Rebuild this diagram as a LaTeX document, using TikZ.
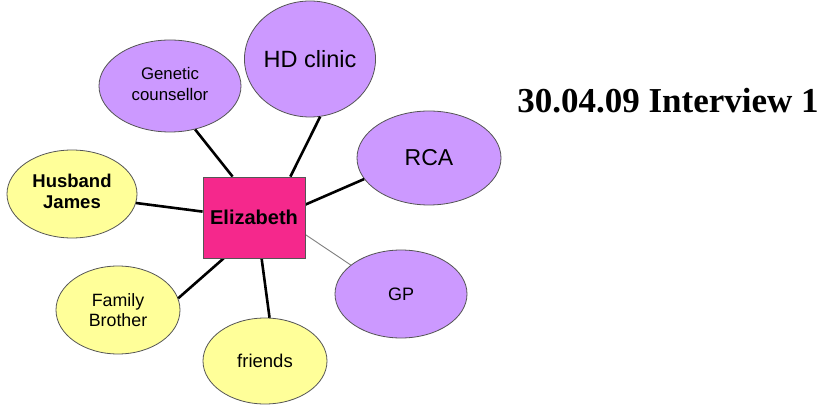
\documentclass[tikz,border=0pt]{standalone}
\usepackage{fontspec}
\setmainfont{Liberation Sans}
\newfontfamily\titlefont{Liberation Serif}
\usetikzlibrary{shapes.geometric,calc}
\definecolor{violetfill}{RGB}{204,153,255}
\definecolor{yellowfill}{RGB}{255,255,153}
\definecolor{pinkfill}{RGB}{245,40,140}
\definecolor{rimgray}{RGB}{85,85,85}
\tikzset{
  bubble/.style={ellipse, draw=rimgray, line width=0.8pt, inner sep=0pt, align=center,
    font=\fontsize{18}{21}\selectfont},
  staff/.style={bubble, fill=violetfill},
  kin/.style={bubble, fill=yellowfill},
  centre/.style={rectangle, draw=rimgray, line width=0.8pt, fill=pinkfill,
    minimum width=102pt, minimum height=81pt, inner sep=0pt,
    font=\bfseries\fontsize{20}{24}\selectfont},
  tie/.style={line width=2.6pt, black},
  weaktie/.style={line width=0.9pt, gray}
}
\begin{document}
\begin{tikzpicture}[x=1pt,y=-1pt]
\useasboundingbox (0,0) rectangle (822,406);
\fill[white] (0,0) rectangle (822,406);

% the central box, placed first so the connectors can refer to it
\node[centre] (eliz) at (254,217.5) {};

\node[staff, minimum width=142pt, minimum height=92pt, font=\fontsize{16.8}{21}\selectfont] (gc) at (170,86) {\raisebox{3pt}{\begin{tabular}{@{}c@{}}Genetic\\counsellor\end{tabular}}};
\node[staff, minimum width=126pt, minimum height=116pt, font=\fontsize{23.5}{28}\selectfont] (hd) at (310,59) {\raisebox{-5pt}{HD clinic}};
\node[staff, minimum width=144pt, minimum height=94pt, font=\fontsize{23}{28}\selectfont] (rca) at (429,158) {\raisebox{2pt}{RCA}};
\node[staff, minimum width=132pt, minimum height=88pt] (gp) at (401,294) {GP};
\node[kin, minimum width=124pt, minimum height=86pt, font=\fontsize{18.5}{22}\selectfont] (fr) at (265,361) {friends};
\node[kin, minimum width=124pt, minimum height=88pt, font=\fontsize{17.8}{20}\selectfont] (fam) at (118,310) {Family\\Brother};
\node[kin, minimum width=130pt, minimum height=88pt, font=\bfseries\fontsize{18.5}{21}\selectfont] (hus) at (72,194) {\raisebox{3pt}{\begin{tabular}{@{}c@{}}Husband\\James\end{tabular}}};

% spokes from each bubble to the central box
\draw[tie] (gc.-60) -- ([xshift=30pt]eliz.north west);
\draw[tie] (hd.-80) -- ([xshift=-15pt]eliz.north east);
\draw[tie] (rca.-162) -- ([yshift=-28pt]eliz.north east);
\draw[weaktie] (gp.150) -- ([yshift=-58pt]eliz.north east);
\draw[tie] (fr.84) -- ([xshift=59pt]eliz.south west);
\draw[tie] (fam.11) -- ([xshift=21pt]eliz.south west);
\draw[tie] (hus.-8) -- ([yshift=-35pt]eliz.north west);

% central box again, over the line ends
\node[centre] (elizlabel) at (eliz) {Elizabeth};

\node[font=\titlefont\bfseries\fontsize{35}{40}\selectfont, anchor=base] (title) at (668,113) {30.04.09 Interview 1};
\end{tikzpicture}
\end{document}
